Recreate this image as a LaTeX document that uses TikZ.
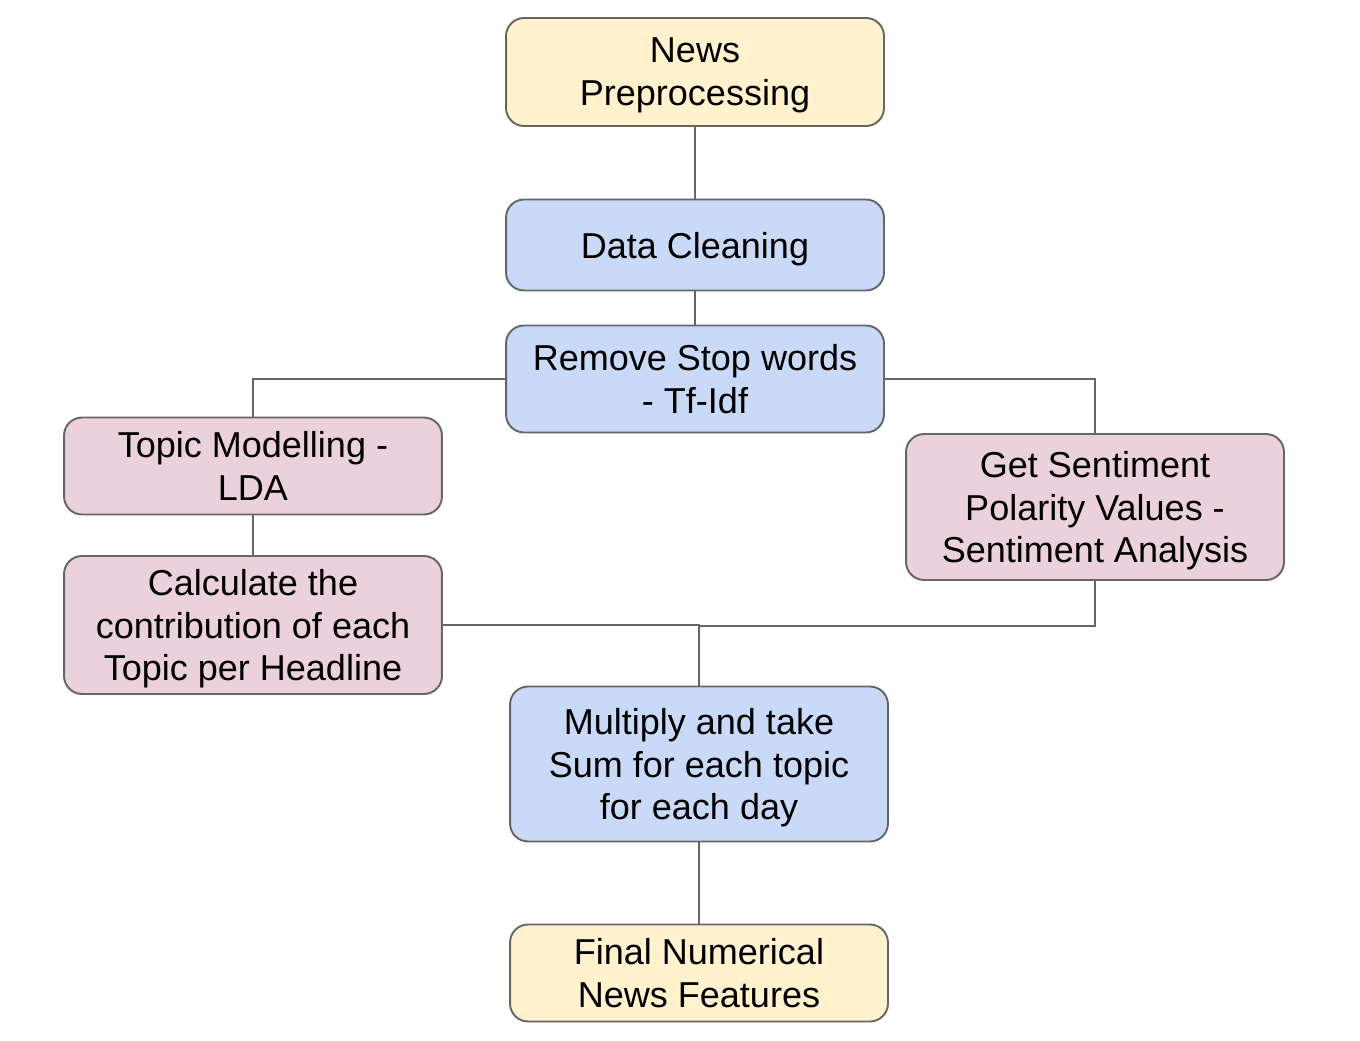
\documentclass[tikz,border=0pt]{standalone}
\usepackage{fontspec}
\setmainfont{Liberation Sans}
\usepackage{xcolor}
\definecolor{boxline}{HTML}{666666}
\definecolor{newsfill}{HTML}{FFF2CC}
\definecolor{stepfill}{HTML}{C9DAF8}
\definecolor{topicfill}{HTML}{EAD1DC}
\tikzset{
	box/.style={draw=boxline,line width=1.1pt,rounded corners=0.36cm,
		minimum width=7.56cm,inner sep=0pt,align=center,text depth=0pt,
		font=\fontsize{20.5}{24.4}\selectfont},
	link/.style={draw=boxline,line width=1.1pt}
}

\begin{document}
\begin{tikzpicture}[x=0.02cm,y=-0.02cm]
	\useasboundingbox (0,0) rectangle (1360,1041);
	\node[box,fill=newsfill,minimum height=2.16cm] (news) at (695,72) {News\\Preprocessing};
	\node[box,fill=stepfill,minimum height=1.82cm] (clean) at (695,245) {Data Cleaning};
	\node[box,fill=stepfill,minimum height=2.14cm] (stop) at (695,379) {Remove Stop words\\- Tf-Idf};
	\node[box,fill=topicfill,minimum height=1.94cm] (lda) at (253,466) {Topic Modelling -\\LDA};
	\node[box,fill=topicfill,minimum height=2.76cm] (contrib) at (253,625) {Calculate the\\contribution of each\\Topic per Headline};
	\node[box,fill=topicfill,minimum height=2.92cm] (senti) at (1095,507) {Get Sentiment\\Polarity Values -\\Sentiment Analysis};
	\node[box,fill=stepfill,minimum height=3.10cm] (mult) at (699,764) {Multiply and take\\Sum for each topic\\for each day};
	\node[box,fill=newsfill,minimum height=1.94cm] (final) at (699,973) {Final Numerical\\News Features};
	\coordinate (join) at (699,626);
	% connectors
	\draw[link] (news) -- (clean);
	\draw[link] (clean) -- (stop);
	\draw[link] (stop.west) -| (lda.north);
	\draw[link] (stop.east) -| (senti.north);
	\draw[link] (lda) -- (contrib);
	\draw[link] (contrib.east) -| (mult.north);
	\draw[link] (senti.south) |- (join);
	\draw[link] (mult) -- (final);
\end{tikzpicture}
\end{document}
